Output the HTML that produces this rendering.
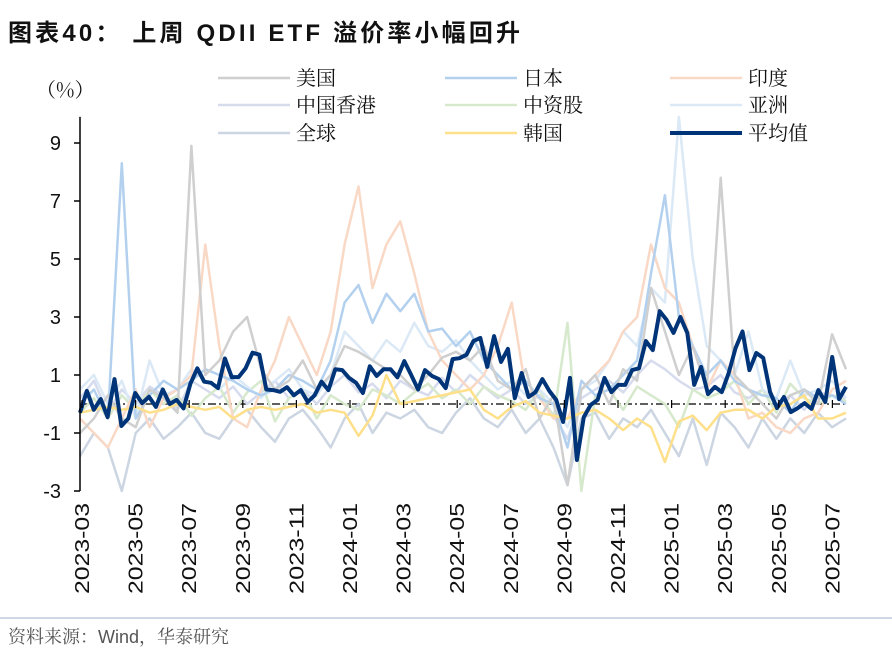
<!DOCTYPE html>
<html><head><meta charset="utf-8">
<style>
body{margin:0;background:#fff;width:892px;height:662px;overflow:hidden;font-family:"Liberation Sans","Noto Sans CJK SC",sans-serif;}
svg text{font-family:"Liberation Sans","Noto Sans CJK SC",sans-serif;}
</style></head>
<body>
<svg id="chart" width="892" height="662" xmlns="http://www.w3.org/2000/svg">
<text x="8" y="41" font-size="24" font-weight="bold" fill="#111" textLength="512" lengthAdjust="spacing">图表40：  上周 QDII ETF 溢价率小幅回升</text>
<text x="36" y="97" font-size="20" fill="#111" style="font-family:'Noto Serif CJK SC',serif">（%）</text>
<g id="grid"></g>
<g id="series"></g>
<g id="axes"></g>
<g id="legend"></g>
<line x1="0" y1="618" x2="892" y2="618" stroke="#9fb0c8" stroke-width="1"/>
<text x="8" y="643" font-size="18" fill="#555" style="font-family:'Liberation Sans','Noto Serif CJK SC',serif">资料来源：Wind，华泰研究</text>
</svg>
<script>
const yTicks=[9,7,5,3,1,-1,-3];
const xTickLabels=["2023-03","2023-05","2023-07","2023-09","2023-11","2024-01","2024-03","2024-05","2024-07","2024-09","2024-11","2025-01","2025-03","2025-05","2025-07"];
const seriesNames=["美国","日本","印度","中国香港","中资股","亚洲","全球","韩国","平均值"];
const usVals=[-1.0,-0.5,0.3,-0.5,-0.8,0.5,0.2,-0.3,8.9,1.0,1.5,2.5,3.0,1.2,0.5,0.8,1.5,0.5,1.0,2.0,1.8,1.5,1.2,1.0,0.5,1.0,1.6,1.8,1.5,2.0,0.8,0.5,1.2,-0.5,0.3,-2.8,0.5,1.0,0.0,1.2,0.8,4.0,2.5,1.0,2.0,0.5,7.8,1.0,0.5,0.0,-0.5,0.3,0.5,0.0,2.4,1.2];
const japanVals=[0,0.5,-0.5,8.3,-0.5,0.3,0.8,0.5,0.8,1.2,1.0,0.8,0.5,0.3,0.5,1.0,0.8,0.5,1.5,3.5,4.1,2.8,3.8,3.2,3.8,2.5,2.6,2.0,2.5,1.5,1.0,0.5,0.8,0.2,0.0,-1.5,0.8,0.3,0.5,1.0,1.5,4.5,7.2,3.0,2.0,1.0,1.5,0.8,0.5,0.3,0.2,-0.3,0.5,0.2,0.3,0.0];
const indiaVals=[-0.5,-1.0,-1.5,-0.5,0.5,-0.8,0.2,0.5,1.0,5.5,2.0,-0.5,-0.8,0.5,1.5,3.0,2.0,1.0,2.5,5.5,7.5,4.0,5.5,6.3,4.5,2.5,1.5,1.0,0.5,1.0,2.0,3.5,0.5,0.2,-0.5,-0.5,0.5,1.0,1.5,2.5,3.0,5.5,4.0,3.5,2.0,0.5,1.5,1.0,-0.5,-0.3,-0.8,-1.0,-0.5,-0.3,0.5,0.8];
const hkVals=[0.2,0.8,-0.3,0.5,0.0,0.6,0.3,-0.2,0.8,0.5,0.2,0.6,0.0,0.4,0.8,0.2,0.5,0.0,0.6,1.0,0.4,0.7,0.2,0.8,0.5,0.3,0.9,0.4,1.0,0.6,0.2,0.5,0.0,0.3,-0.4,-1.2,0.2,0.5,0.8,0.4,1.0,1.5,1.2,0.8,0.5,0.6,1.0,0.4,0.2,0.5,0.0,0.3,-0.2,0.4,0.3,0.2];
const chinaVals=[-0.3,0.2,-0.5,0.3,-0.2,0.5,0.0,0.3,-0.4,0.2,0.6,-0.3,0.4,0.8,-0.6,0.2,0.5,-0.5,0.3,0.0,-0.2,0.5,0.3,0.0,0.4,0.7,0.2,0.5,0.0,0.6,0.3,0.1,-0.2,0.5,-0.5,2.8,-3.0,0.3,0.5,-0.2,0.6,0.3,0.0,-0.8,0.5,0.2,0.4,0.8,0.0,0.5,-0.3,0.7,0.2,0.0,0.3,0.1];
const asiaVals=[0.5,1.0,0.0,0.8,-0.5,1.5,0.3,0.5,1.2,0.8,0.5,1.0,0.6,0.2,0.8,1.2,0.5,0.3,1.0,2.5,2.0,1.5,2.2,1.8,2.8,2.0,1.8,2.2,1.5,1.0,0.5,0.8,0.3,0.5,0.0,-0.8,0.5,0.8,1.5,2.5,2.0,4.0,3.5,9.9,5.0,2.0,1.5,1.0,2.5,0.5,0.2,1.5,0.3,0.5,0.8,0.2];
const globalVals=[-1.8,-1.0,-1.5,-3.0,-1.0,-0.5,-1.2,-0.8,-0.3,-1.0,-1.2,-0.5,-0.2,-0.8,-1.3,-0.5,-0.2,-0.8,-1.5,-0.5,0.0,-1.0,-0.3,-0.5,-0.2,-0.8,-1.0,-0.3,0.2,-0.5,-0.8,-0.2,-1.0,-0.5,-1.5,-2.8,-0.5,-0.3,-1.2,-0.5,-0.8,-0.2,-1.0,-1.8,-0.5,-2.1,-0.3,-0.8,-1.5,-0.5,-1.2,-0.5,-1.0,-0.3,-0.8,-0.5];
const koreaVals=[-0.3,-0.2,-0.1,-0.2,-0.1,-0.3,-0.2,0.0,-0.1,-0.2,-0.1,-0.5,-0.2,-0.1,-0.2,-0.1,0.0,-0.3,-0.2,-0.3,-1.1,-0.4,1.0,0.0,0.1,0.2,0.3,0.4,0.5,-0.2,-0.5,-0.1,0.1,-0.3,-0.4,-0.5,-0.3,-0.2,-0.5,-0.9,-0.5,-0.8,-2.0,-0.6,-0.4,-0.9,-0.3,-0.2,-0.2,-0.5,-0.1,0.0,0.3,-0.5,-0.5,-0.3];
const avgVals=[-0.3,0.45,-0.2,0.17,-0.45,0.86,-0.76,-0.5,0.38,0.03,0.25,-0.1,0.5,0,0.14,-0.15,0.7,1.23,0.77,0.73,0.55,1.57,0.92,0.93,1.23,1.77,1.7,0.5,0.48,0.42,0.58,0.3,0.48,0.07,0.3,0.77,0.48,1.2,1.17,0.9,0.73,0.38,1.3,0.97,1.2,1.2,0.92,1.48,1.0,0.5,1.17,0.97,0.86,0.55,1.55,1.58,1.7,2.17,2.28,1.28,2.34,1.45,1.9,0.2,1.07,0.24,0.41,0.86,0.45,0.14,-0.62,0.9,-1.93,-0.45,-0.03,0.14,0.9,0.41,0.66,0.66,1.17,1.23,2.17,1.86,3.2,2.9,2.45,3.0,2.45,0.66,1.28,0.34,0.59,0.41,1.07,1.93,2.5,1.17,1.76,1.59,0.41,-0.14,0.24,-0.28,-0.14,0.03,-0.17,0.48,0.07,1.62,0.17,0.59];

const NS="http://www.w3.org/2000/svg";
const X0=80,X1=846,Y0=404,PPU=29;
function yScale(v){return Y0-v*PPU;}
function xScale(i,n){return X0+i*(X1-X0)/(n-1);}
function xMonth(m){return 82+m*26.8;}
function mk(tag,attrs,parent){const e=document.createElementNS(NS,tag);for(const k in attrs)e.setAttribute(k,attrs[k]);parent.appendChild(e);return e;}

const seriesVals=[usVals,japanVals,indiaVals,hkVals,chinaVals,asiaVals,globalVals,koreaVals,avgVals];
const colors=["#cfcfcf","#b3d1ee","#f9d9c6","#d6dbee","#d7e9cd","#dbe9f6","#ccd5e2","#ffe08a","#003478"];
const widths=[2.5,2.5,2.5,2.5,2.5,2.5,2.5,2.5,4];
const keys=["us","japan","india","hk","china","asia","global","korea","average"];
const sg=document.getElementById('series');
const zl=mk('line',{x1:X0,y1:yScale(0),x2:X1,y2:yScale(0),stroke:'#000','stroke-width':1.2,'stroke-dasharray':'8,3,2,3'},document.getElementById('grid'));


const order=[6,3,4,5,2,1,0,7,8];
order.forEach(s=>{
  const vals=seriesVals[s];
  const pts=vals.map((v,i)=>xScale(i,vals.length).toFixed(1)+','+yScale(v).toFixed(1)).join(' ');
  const p=mk('polyline',{points:pts,fill:'none',stroke:colors[s],'stroke-width':widths[s],'stroke-linejoin':'round'},sg);
  
  
});
const ax=document.getElementById('axes');
const yl=mk('line',{x1:X0,y1:yScale(9.9),x2:X0,y2:yScale(-3),stroke:'#000','stroke-width':1.5},ax);


yTicks.forEach(t=>{
  const tk=mk('line',{x1:X0-6,y1:yScale(t),x2:X0,y2:yScale(t),stroke:'#000','stroke-width':1.5},ax);
  
  
  const tx=mk('text',{x:61,y:yScale(t)+7,'font-size':20,'text-anchor':'end',fill:'#111'},ax);
  tx.textContent=t;
  
  
});
xTickLabels.forEach((lab,i)=>{
  const x=xMonth(i*2);
  const tk=mk('line',{x1:x,y1:Y0-4,x2:x,y2:Y0+4,stroke:'#000','stroke-width':1.2},ax);
  
  
  const tx=mk('text',{x:0,y:0,'font-size':20,'text-anchor':'end',fill:'#111',textLength:91,lengthAdjust:'spacingAndGlyphs',transform:`translate(${x+7},503) rotate(-90)`},ax);
  tx.textContent=lab;
  
  
});
const lg=document.getElementById('legend');
const colX=[218,445,670],rowY=[78,105,133];
seriesNames.forEach((n,i)=>{
  const c=i%3,r=Math.floor(i/3);
  const g=mk('g',{},lg);
  
  
  mk('line',{x1:colX[c],y1:rowY[r],x2:colX[c]+72,y2:rowY[r],stroke:colors[i],'stroke-width':i==8?4:2.5},g);
  const t=mk('text',{x:colX[c]+78,y:rowY[r]+7,'font-size':20,fill:'#111',style:"font-family:'Noto Serif CJK SC',serif"},g);
  t.textContent=n;
});
</script>
</body></html>
